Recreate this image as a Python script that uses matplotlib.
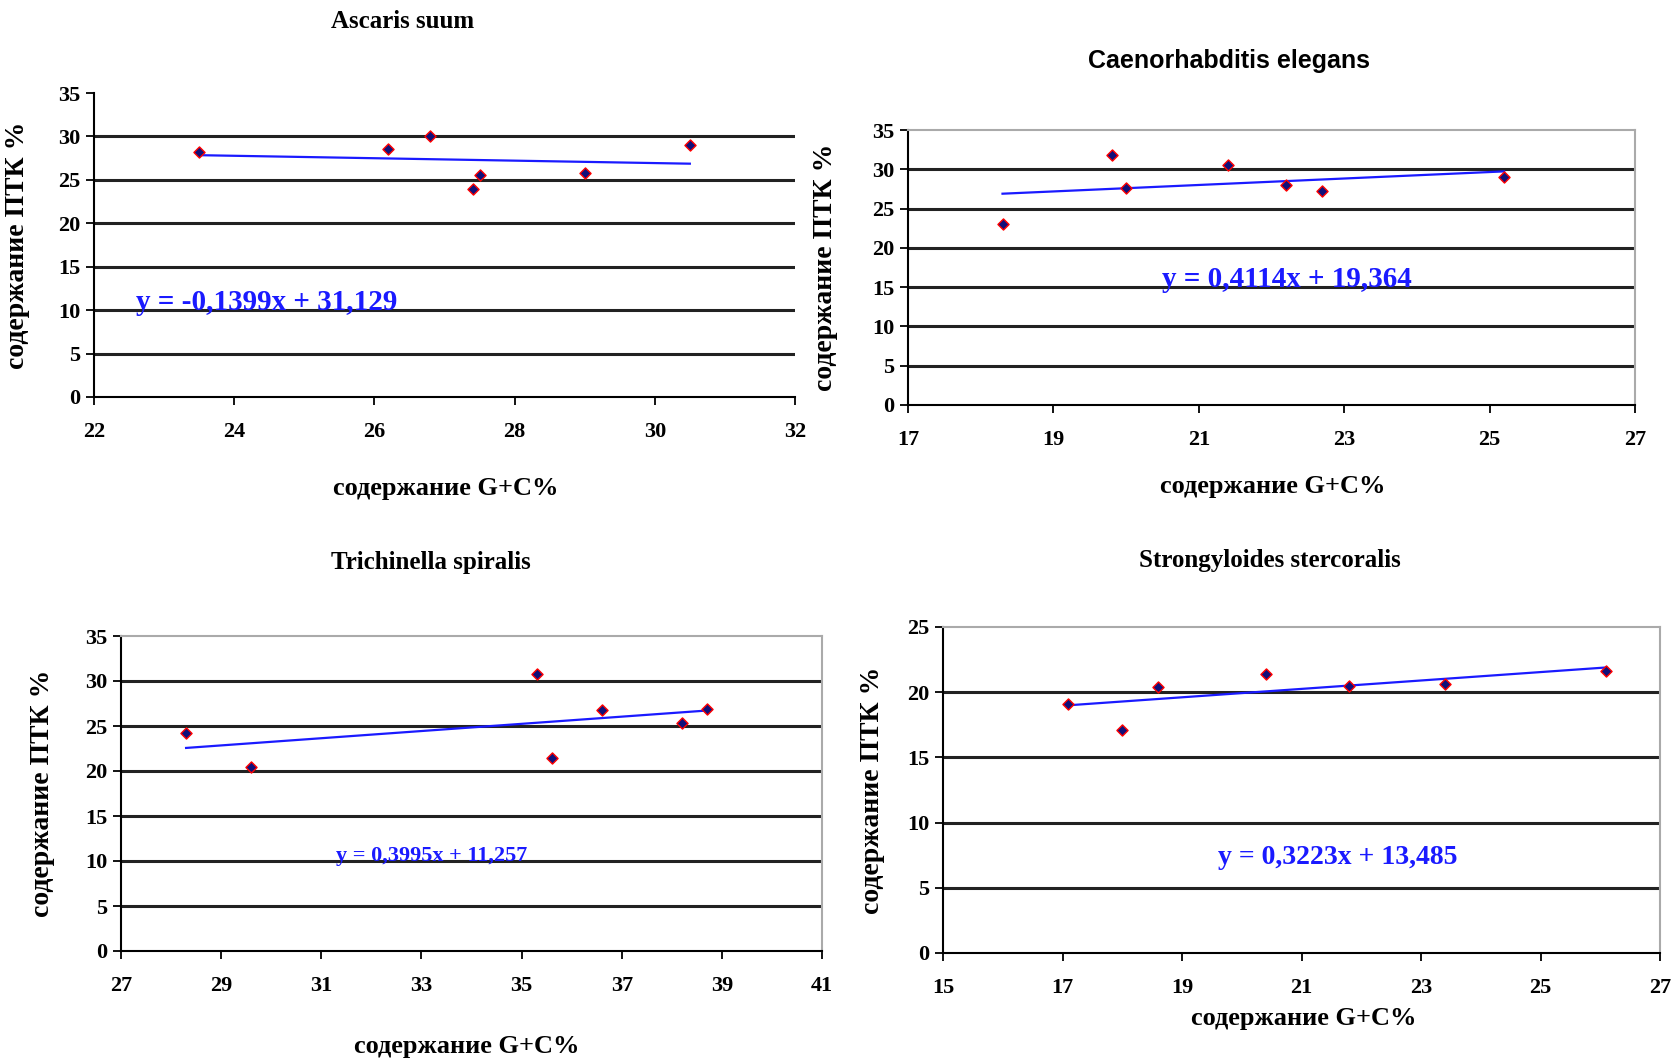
import matplotlib
matplotlib.use('Agg')
import matplotlib.pyplot as plt
import numpy as np

W, H = 1673, 1064

titles = ['Ascaris suum', 'Caenorhabditis elegans', 'Trichinella spiralis', 'Strongyloides stercoralis']
xlabel = 'содержание G+C%'
ylabel = 'содержание ПТК %'

# G+C content (x) and PTK content (y) for each species
gc_ascaris = [23.5, 26.2, 26.8, 27.4, 27.5, 29.0, 30.5]
ptk_ascaris = [28.2, 28.6, 30.0, 24.0, 25.6, 25.8, 29.0]

gc_elegans = [18.3, 19.8, 20.0, 21.4, 22.2, 22.7, 25.2]
ptk_elegans = [23.0, 31.8, 27.6, 30.5, 28.0, 27.2, 29.0]

gc_trich = [28.3, 29.6, 35.3, 35.6, 36.6, 38.2, 38.7]
ptk_trich = [24.2, 20.5, 30.8, 21.4, 26.8, 25.3, 26.9]

gc_strong = [17.1, 18.0, 18.6, 20.4, 21.8, 23.4, 26.1]
ptk_strong = [19.1, 17.1, 20.4, 21.4, 20.5, 20.6, 21.6]

# trendline coefficients (slope, intercept) as printed on the chart
slopes = [-0.1399, 0.4114, 0.3995, 0.3223]
intercepts = [31.129, 19.364, 11.257, 13.485]
equations = ['y = -0,1399x + 31,129', 'y = 0,4114x + 19,364',
             'y = 0,3995x + 11,257', 'y = 0,3223x + 13,485']

xlims = [(22, 32), (17, 27), (27, 41), (15, 27)]
ylims = [(0, 35), (0, 35), (0, 35), (0, 25)]

# layout in pixels: axes box (left, top, right, bottom), title pos, xlabel pos, ylabel x, equation pos (data), eq size
boxes = [(94, 93, 795, 397), (908, 130, 1635, 405), (121, 636, 822, 951), (943, 627, 1660, 953)]
title_pos = [(403, 21), (1229, 61), (431, 562), (1270, 560)]
xlab_pos = [(446, 489), (1273, 487), (467, 1046), (1304, 1019)]
ylab_x = [30, 838, 55, 885]
eq_pos = [(22.6, 10.0), (20.5, 15.0), (31.3, 10.0), (19.6, 6.8)]
eq_size = [21, 21, 16, 20]
title_fam = ['Liberation Serif', 'Liberation Sans', 'Liberation Serif', 'Liberation Serif']

data = [(gc_ascaris, ptk_ascaris), (gc_elegans, ptk_elegans),
        (gc_trich, ptk_trich), (gc_strong, ptk_strong)]

fig = plt.figure(figsize=(W / 100, H / 100), dpi=100)

for i in range(4):
    l, t, r, b = boxes[i]
    ax = fig.add_axes([l / W, 1 - b / H, (r - l) / W, (b - t) / H])
    x, y = data[i]

    ax.set_xlim(*xlims[i])
    ax.set_ylim(*ylims[i])
    ax.set_xticks(np.arange(xlims[i][0], xlims[i][1] + 1, 2))
    ax.set_yticks(np.arange(0, ylims[i][1] + 1, 5))

    # horizontal gridlines
    for yv in np.arange(5, ylims[i][1], 5):
        ax.axhline(yv, color='#222222', lw=2.2, zorder=1)

    # trendline
    xs = np.array([min(x), max(x)])
    ax.plot(xs, slopes[i] * xs + intercepts[i], color='#1a1aff', lw=1.6, zorder=2)

    ax.scatter(x, y, marker='D', s=32, color='#10107a', edgecolors='red', linewidths=1.0, zorder=3)

    ax.text(eq_pos[i][0], eq_pos[i][1], equations[i], color='#1a1aff', fontsize=eq_size[i],
            family='Liberation Serif', fontweight='bold', va='baseline', ha='left', zorder=4)

    for side in ['left', 'bottom']:
        ax.spines[side].set_color('black')
        ax.spines[side].set_linewidth(1.5)
    if i == 0:
        ax.spines['top'].set_visible(False)
        ax.spines['right'].set_visible(False)
    else:
        for side in ['top', 'right']:
            ax.spines[side].set_color('#aaaaaa')
            ax.spines[side].set_linewidth(1.5)

    ax.tick_params(direction='out', length=6, width=1.3, labelsize=16)
    for lab in ax.get_xticklabels() + ax.get_yticklabels():
        lab.set_family('Liberation Serif')
        lab.set_fontweight('bold')
    ax.tick_params(axis='x', pad=12)
    ax.tick_params(axis='y', pad=4)

    fig.text(title_pos[i][0] / W, 1 - title_pos[i][1] / H, titles[i], ha='center', va='center',
             fontsize=18, family=title_fam[i], fontweight='bold')
    fig.text(xlab_pos[i][0] / W, 1 - xlab_pos[i][1] / H, xlabel, ha='center', va='center',
             fontsize=19, family='Liberation Serif', fontweight='bold')
    ax.set_ylabel(ylabel, fontsize=20, family='Liberation Serif', fontweight='bold')
    ax.yaxis.set_label_coords((ylab_x[i] - l) / (r - l), 0.5)

fig.savefig('out.png', dpi=100, facecolor='white')
